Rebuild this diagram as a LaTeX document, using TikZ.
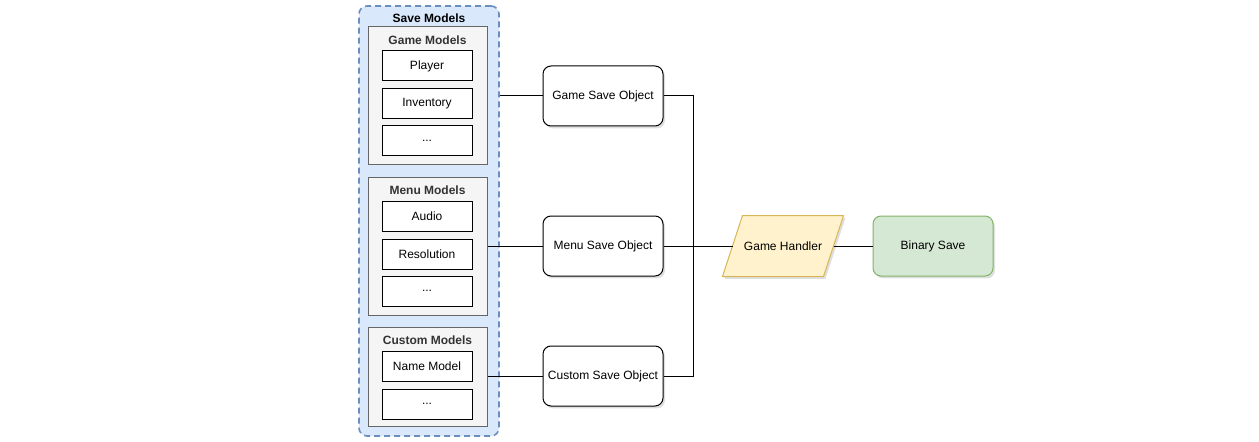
\documentclass[tikz,border=0pt]{standalone}
\usepackage{fontspec}
\setmainfont{Liberation Sans}
\usetikzlibrary{shadows}
\definecolor{saveFill}{HTML}{DAE8FC}
\definecolor{saveLine}{HTML}{6C8EBF}
\definecolor{groupFill}{HTML}{F5F5F5}
\definecolor{groupLine}{HTML}{666666}
\definecolor{groupText}{HTML}{333333}
\definecolor{handlerFill}{HTML}{FFF2CC}
\definecolor{handlerLine}{HTML}{D6B656}
\definecolor{binFill}{HTML}{D5E8D4}
\definecolor{binLine}{HTML}{82B366}
\newcommand{\moredots}{...}

\tikzset{
	txt/.style = {font=\fontsize{9}{10}\selectfont},
	model/.style = {txt, draw, fill=white, inner sep=0pt,
		minimum width=67.5pt, minimum height=22.5pt},
	group/.style = {draw=groupLine, fill=groupFill, inner sep=0pt,
		minimum width=89.25pt},
	grouptitle/.style = {txt, font=\fontsize{9}{10}\selectfont\bfseries, text=groupText},
	shade/.style = {drop shadow={shadow xshift=1.5pt, shadow yshift=-1.8pt, opacity=0.25}},
	saveobj/.style = {txt, draw, fill=white, rounded corners=6pt, shade,
		minimum width=90pt, minimum height=45pt}
}

\begin{document}
\begin{tikzpicture}[x=0.75pt, y=-0.75pt, line width=0.75pt]
\useasboundingbox (0, 0) rectangle (1259, 442);

\node[draw=saveLine, fill=saveFill, line width=1.2pt, dash pattern=on 4.5pt off 3pt,
	rounded corners=6pt, minimum width=105pt, minimum height=322.5pt] (save) at (429, 221) {};
\node[txt, font=\fontsize{9}{10}\selectfont\bfseries] (savetitle) at (429, 18) {Save Models};

\node[group, minimum height=103.5pt] (gm) at (427.5, 96) {};
\node[group, minimum height=103.5pt] (mm) at (427.5, 246) {};
\node[group, minimum height=74.25pt] (cm) at (427.5, 376.5) {};
\node[grouptitle] (gmtitle) at (427.5, 40) {Game Models};
\node[grouptitle] (mmtitle) at (427.5, 190) {Menu Models};
\node[grouptitle] (cmtitle) at (427.5, 340) {Custom Models};

\foreach \y/\name/\label in {
	66/player/Player,
	104/inventory/Inventory,
	141/gdots/\moredots,
	216/audio/Audio,
	254/resolution/Resolution,
	291/mdots/\moredots,
	366/namemodel/Name Model,
	404/cdots/\moredots
	}
\node[model] (\name) at (427, \y) {\label};

\node[saveobj] (gso) at (603, 96) {Game Save Object};
\node[saveobj] (mso) at (603, 246) {Menu Save Object};
\node[saveobj] (cso) at (603, 376) {Custom Save Object};

% parallelogram drawn round a plain node
\node[txt, minimum width=75pt, minimum height=45pt, inner sep=0pt] (handler) at (783, 246) {};
\filldraw[draw=handlerLine, fill=handlerFill, shade]
	([xshift=-7.5pt]handler.south west) -- ([xshift=7.5pt]handler.north west)
	-- ([xshift=7.5pt]handler.north east) -- ([xshift=-7.5pt]handler.south east) -- cycle;
\node[txt] (handlertext) at (handler) {Game Handler};
\node[txt, draw=binLine, fill=binFill, rounded corners=6pt, shade,
	minimum width=90pt, minimum height=45pt] (binary) at (933, 246) {Binary Save};

\coordinate (bus) at (693, 246);

\draw (save.east |- gso) -- (gso.west);
\draw (mm.east) -- (mso.west);
\draw (cm.east |- cso) -- (cso.west);
\draw (gso.east) -| (bus) |- (cso.east);
\draw (mso.east) -- (handler.west);
\draw (handler.east) -- (binary.west);

\end{tikzpicture}
\end{document}
